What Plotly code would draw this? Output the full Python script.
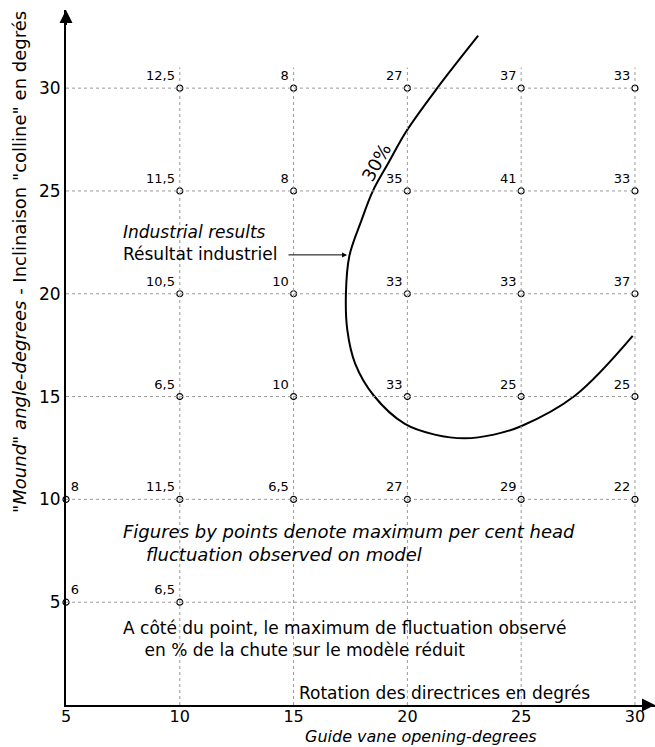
import plotly.graph_objects as go

# Guide vane opening (deg) and mound angle (deg) grid
opening_ticks = [5, 10, 15, 20, 25, 30]
mound_ticks = [5, 10, 15, 20, 25, 30]

# Test points: opening, mound angle, max head fluctuation (%) observed on model
pt_opening = [10, 15, 20, 25, 30,
              10, 15, 20, 25, 30,
              10, 15, 20, 25, 30,
              10, 15, 20, 25, 30,
              5, 10, 15, 20, 25, 30,
              5, 10]
pt_mound = [30, 30, 30, 30, 30,
            25, 25, 25, 25, 25,
            20, 20, 20, 20, 20,
            15, 15, 15, 15, 15,
            10, 10, 10, 10, 10, 10,
            5, 5]
pt_fluct = ["12,5", "8", "27", "37", "33",
            "11,5", "8", "35", "41", "33",
            "10,5", "10", "33", "33", "37",
            "6,5", "10", "33", "25", "25",
            "8", "11,5", "6,5", "27", "29", "22",
            "6", "6,5"]

# 30 % contour (industrial results)
curve_opening = [23.11, 21.31, 19.94, 19.2, 18.47, 17.99, 17.45, 17.30,
                 17.36, 17.70, 18.53, 19.89, 21.2, 22.53, 23.8, 25.02, 27.36, 29.9]
curve_mound = [32.55, 30.0, 27.88, 26.43, 24.97, 23.59, 21.84, 20.02,
               18.24, 16.62, 15.04, 13.67, 13.15, 12.97, 13.15, 13.57, 15.04, 17.95]

FONT = "DejaVu Sans"
X_END, Y_END = 30.88, 33.8
NB = "&nbsp;"

fig = go.Figure()

# dotted reference grid
for xv in opening_ticks[1:]:
    fig.add_shape(type="line", x0=xv, x1=xv, y0=0, y1=31.0,
                  line=dict(color="#9a9a9a", width=1, dash="dot"))
for yv in mound_ticks:
    fig.add_shape(type="line", x0=5, x1=30, y0=yv, y1=yv,
                  line=dict(color="#9a9a9a", width=1, dash="dot"))

fig.add_trace(go.Scatter(
    x=curve_opening, y=curve_mound, mode="lines",
    line=dict(color="black", width=2, shape="spline", smoothing=1.0),
    hoverinfo="skip", showlegend=False))

fig.add_trace(go.Scatter(
    x=pt_opening, y=pt_mound, mode="markers+text",
    text=pt_fluct,
    textposition=["top right" if o == 5 else "top left" for o in pt_opening],
    textfont=dict(family=FONT, size=13, color="black"),
    marker=dict(symbol="circle", size=6, color="white",
                line=dict(color="black", width=1.2)),
    cliponaxis=False, showlegend=False))

# axis arrowheads
fig.add_annotation(x=X_END, y=0, ax=X_END - 0.6, ay=0, xref="x", yref="y",
                   axref="x", ayref="y", text="", showarrow=True,
                   arrowhead=2, arrowsize=1.3, arrowwidth=2, arrowcolor="black")
fig.add_annotation(x=5, y=Y_END, ax=5, ay=Y_END - 0.8, xref="x", yref="y",
                   axref="x", ayref="y", text="", showarrow=True,
                   arrowhead=2, arrowsize=1.3, arrowwidth=2, arrowcolor="black")

# "30%" contour label
fig.add_annotation(x=18.62, y=26.4, text="30%", showarrow=False, textangle=-61,
                   font=dict(family=FONT, size=18, color="black"))

# industrial results pointer
fig.add_annotation(x=7.42, y=22.47,
                   text="<i>Industrial results</i><br>Résultat industriel",
                   showarrow=False, xanchor="left", align="left",
                   font=dict(family=FONT, size=17, color="black"))
fig.add_annotation(x=17.35, y=21.89, ax=14.71, ay=21.89, xref="x", yref="y",
                   axref="x", ayref="y", text="", showarrow=True,
                   arrowhead=2, arrowsize=1, arrowwidth=1, arrowcolor="black")

# notes
fig.add_annotation(x=7.42, y=7.88,
                   text="<i>Figures by points denote maximum per cent head<br>"
                        + NB * 4 + "fluctuation observed on model</i>",
                   showarrow=False, xanchor="left", align="left",
                   font=dict(family=FONT, size=18, color="black"))
fig.add_annotation(x=7.42, y=3.19,
                   text="A côté du point, le maximum de fluctuation observé<br>"
                        + NB * 4 + "en % de la chute sur le modèle réduit",
                   showarrow=False, xanchor="left", align="left",
                   font=dict(family=FONT, size=17, color="black"))
fig.add_annotation(x=15.15, y=0.58, text="Rotation des directrices en degrés",
                   showarrow=False, xanchor="left",
                   font=dict(family=FONT, size=17, color="black"))

# horizontal axis title
fig.add_annotation(x=15.41, y=-0.0455, yref="paper", yanchor="middle",
                   text="<i>Guide vane opening-degrees</i>",
                   showarrow=False, xanchor="left",
                   font=dict(family=FONT, size=16, color="black"))

# vertical axis title
fig.add_annotation(x=-0.078, xref="paper", xanchor="center",
                   y=21.55, yref="y", yanchor="middle",
                   text='<i>"Mound" angle-degrees</i> - Inclinaison "colline" en degrés',
                   showarrow=False, textangle=-90,
                   font=dict(family=FONT, size=18, color="black"))

fig.update_xaxes(range=[5, X_END], tickvals=opening_ticks,
                 ticktext=[str(v) for v in opening_ticks],
                 showgrid=False, zeroline=False, showline=True,
                 linecolor="black", linewidth=2, ticks="",
                 ticklabelstandoff=-4,
                 tickfont=dict(family=FONT, size=16, color="black"))
fig.update_yaxes(range=[0, Y_END], tickvals=mound_ticks,
                 ticktext=[str(v) for v in mound_ticks],
                 showgrid=False, zeroline=False, showline=True,
                 linecolor="black", linewidth=2, ticks="",
                 tickfont=dict(family=FONT, size=17, color="black"))

fig.update_layout(width=655, height=747,
                  margin=dict(l=66, r=0, t=10, b=42),
                  plot_bgcolor="white", paper_bgcolor="white",
                  showlegend=False)

fig.write_html("out.html")
